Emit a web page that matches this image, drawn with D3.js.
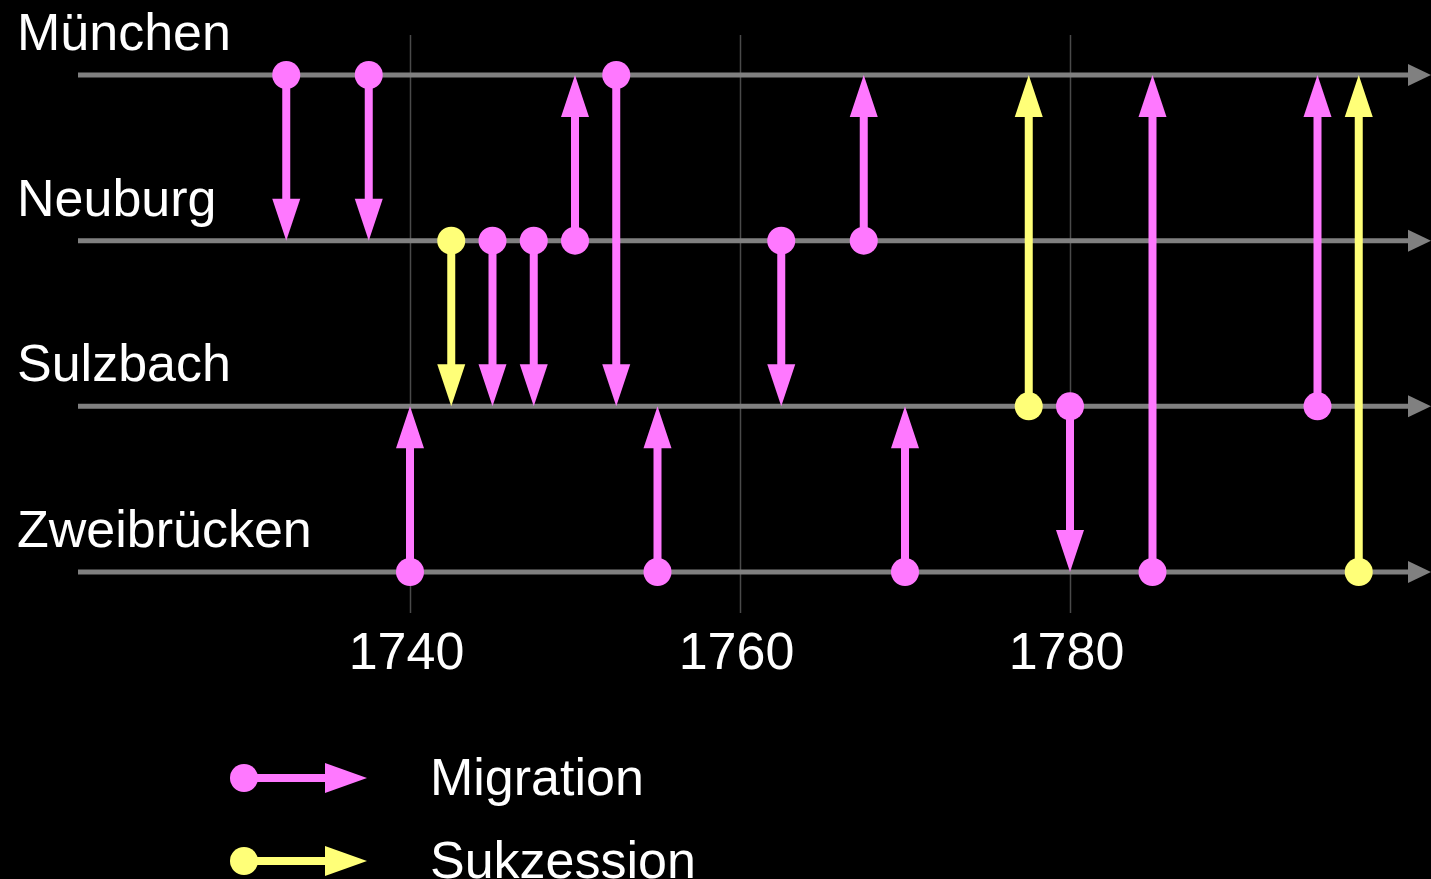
<!DOCTYPE html>
<html lang="de">
<head>
<meta charset="UTF-8">
<title>Migration und Sukzession</title>
<script src="https://d3js.org/d3.v7.min.js"></script>
<style>
  html, body { margin: 0; padding: 0; background: #000; }
  svg { display: block; }
  text { font-family: "Liberation Sans", Arial, sans-serif; fill: #fff; }
</style>
</head>
<body>
<svg width="1431" height="879"></svg>
<script>
// residences (one lane each)
var lanes = ["München", "Neuburg", "Sulzbach", "Zweibrücken"];

// events: year, from lane, to lane, kind
var years    = [1732.5, 1737.5, 1740, 1742.5, 1745, 1747.5, 1750, 1752.5, 1755, 1762.5, 1767.5, 1770, 1777.5, 1780, 1785, 1795, 1797.5];
var fromLane = ["München", "München", "Zweibrücken", "Neuburg", "Neuburg", "Neuburg", "Neuburg", "München", "Zweibrücken", "Neuburg", "Neuburg", "Zweibrücken", "Sulzbach", "Sulzbach", "Zweibrücken", "Sulzbach", "Zweibrücken"];
var toLane   = ["Neuburg", "Neuburg", "Sulzbach", "Sulzbach", "Sulzbach", "Sulzbach", "München", "Sulzbach", "Sulzbach", "Sulzbach", "München", "Sulzbach", "München", "Zweibrücken", "München", "München", "München"];
var kinds    = ["Migration", "Migration", "Migration", "Sukzession", "Migration", "Migration", "Migration", "Migration", "Migration", "Migration", "Migration", "Migration", "Sukzession", "Migration", "Migration", "Migration", "Sukzession"];

var tickYears = [1740, 1760, 1780];
var legendKinds = ["Migration", "Sukzession"];

var width = 1431, height = 879;
var svg = d3.select("svg");

var x = d3.scaleLinear().domain([1740, 1780]).range([410, 1070]);
var y = d3.scalePoint().domain(lanes).range([75, 572]);
var color = d3.scaleOrdinal().domain(legendKinds).range(["#ff78ff", "#ffff78"]);

var events = years.map(function(yr, i) {
    return { year: yr, from: fromLane[i], to: toLane[i], kind: kinds[i] };
});

var headLen = 42, headHalf = 14, dotR = 14, shaftW = 8;
var fontSize = "52px";

// grid lines + tick labels
var gridTop = 35, gridBottom = 613;
var axis = d3.axisBottom(x)
    .tickValues(tickYears)
    .tickFormat(d3.format("d"))
    .tickSize(-(gridBottom - gridTop))
    .tickPadding(19);

var ax = svg.append("g")
    .attr("transform", "translate(0," + gridBottom + ")")
    .call(axis);
ax.select(".domain").remove();
ax.selectAll(".tick line").attr("stroke", "#4a4a4a").attr("stroke-width", 1.5);
ax.selectAll(".tick text")
    .attr("fill", "#fff")
    .attr("dx", -4)
    .style("font-size", fontSize)
    .style("font-family", "'Liberation Sans', Arial, sans-serif");

// lanes: grey lines with arrowheads
var laneG = svg.append("g");
laneG.selectAll("line")
    .data(lanes)
    .enter()
    .append("line")
    .attr("x1", 78)
    .attr("x2", width - 20)
    .attr("y1", d => y(d))
    .attr("y2", d => y(d))
    .attr("stroke", "#808080")
    .attr("stroke-width", 5);

laneG.selectAll("path")
    .data(lanes)
    .enter()
    .append("path")
    .attr("d", d => "M" + (width - 23) + "," + (y(d) - 11) + "L" + width + "," + y(d) + "L" + (width - 23) + "," + (y(d) + 11) + "Z")
    .attr("fill", "#808080");

laneG.selectAll("text")
    .data(lanes)
    .enter()
    .append("text")
    .attr("x", 17)
    .attr("y", d => y(d) - 25)
    .style("font-size", fontSize)
    .text(d => d);

// events
var ev = svg.append("g").selectAll("g")
    .data(events)
    .enter()
    .append("g");

ev.append("line")
    .attr("x1", d => x(d.year))
    .attr("x2", d => x(d.year))
    .attr("y1", d => y(d.from))
    .attr("y2", d => {
        var dir = y(d.to) > y(d.from) ? 1 : -1;
        return y(d.to) - dir * (headLen - 2);
    })
    .attr("stroke", d => color(d.kind))
    .attr("stroke-width", shaftW);

ev.append("path")
    .attr("d", d => {
        var cx = x(d.year), ty = y(d.to);
        var dir = ty > y(d.from) ? 1 : -1;
        var by = ty - dir * headLen;
        return "M" + (cx - headHalf) + "," + by + "L" + cx + "," + ty + "L" + (cx + headHalf) + "," + by + "Z";
    })
    .attr("fill", d => color(d.kind));

ev.append("circle")
    .attr("cx", d => x(d.year))
    .attr("cy", d => y(d.from))
    .attr("r", dotR)
    .attr("fill", d => color(d.kind));

// legend
var legendY = d3.scalePoint().domain(legendKinds).range([778, 861]);
var lg = svg.append("g").selectAll("g")
    .data(legendKinds)
    .enter()
    .append("g")
    .attr("transform", d => "translate(0," + legendY(d) + ")");

lg.append("line")
    .attr("x1", 244).attr("x2", 327)
    .attr("y1", 0).attr("y2", 0)
    .attr("stroke", d => color(d))
    .attr("stroke-width", shaftW);

lg.append("path")
    .attr("d", "M325,-15L367,0L325,15Z")
    .attr("fill", d => color(d));

lg.append("circle")
    .attr("cx", 244).attr("cy", 0)
    .attr("r", dotR)
    .attr("fill", d => color(d));

lg.append("text")
    .attr("x", 430)
    .attr("y", 17)
    .style("font-size", fontSize)
    .text(d => d);
</script>
</body>
</html>
